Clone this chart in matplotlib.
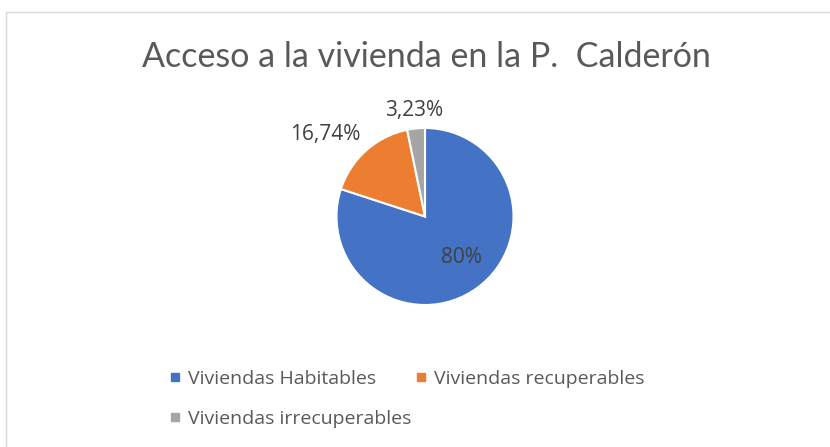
import numpy as np
import matplotlib
matplotlib.use('Agg')
import matplotlib.pyplot as plt
from matplotlib.lines import Line2D
from matplotlib.patches import Rectangle

# data
categories = ['Viviendas Habitables', 'Viviendas recuperables', 'Viviendas irrecuperables']
values = [80.0, 16.74, 3.23]
pct_labels = ['80%', '16,74%', '3,23%']
colours = ['#4472C4', '#ED7D31', '#A5A5A5']

plt.rcParams['font.family'] = ['Open Sans', 'DejaVu Sans']

W, H = 830, 447
fig = plt.figure(figsize=(W / 100, H / 100), dpi=100)
fig.patch.set_facecolor('white')

# light chart-area border (runs off right and bottom)
fig.patches.append(Rectangle((5.5 / W, -0.05), 1.1, (H - 11.5) / H + 0.05,
                             transform=fig.transFigure, fill=False,
                             edgecolor='#D9D9D9', linewidth=1.0))

cx, cy, r = 425, H - 216.5, 88.5
ax = fig.add_axes([(cx - r) / W, (cy - r) / H, 2 * r / W, 2 * r / H])
wedges, _ = ax.pie(values, colors=colours, startangle=90, counterclock=False,
                   wedgeprops=dict(edgecolor='white', linewidth=1.5))
ax.set_xlim(-1, 1)
ax.set_ylim(-1, 1)
ax.set_aspect('equal')

# label placement per slice (fraction of radius, angle offset)
label_dist = [0.62, 1.46, 1.20]
angle_shift = [6, 9, 0]
for w, lab, d, s in zip(wedges, pct_labels, label_dist, angle_shift):
    ang = np.deg2rad((w.theta1 + w.theta2) / 2 + s)
    ax.text(d * np.cos(ang), d * np.sin(ang), lab, ha='center', va='center',
            fontsize=15, color='#404040', clip_on=False)

fig.text(426 / W, 1 - 57 / H, 'Acceso a la vivienda en la P.  Calderón',
         ha='center', va='center', fontsize=24.5, color='#595959',
         family=['Lato', 'DejaVu Sans'])

handles = [Line2D([], [], marker='s', linestyle='none', markersize=5.8,
                  markerfacecolor=c, markeredgecolor=c) for c in colours]
order = [0, 2, 1]
fig.legend([handles[i] for i in order], [categories[i] for i in order],
           ncol=2, loc='upper left', bbox_to_anchor=(152 / W, 1 - 352 / H),
           frameon=False, fontsize=14, labelcolor='#595959',
           handlelength=0.6, handletextpad=0.35, columnspacing=0.2,
           labelspacing=1.15)

fig.savefig('out.png', dpi=100)
